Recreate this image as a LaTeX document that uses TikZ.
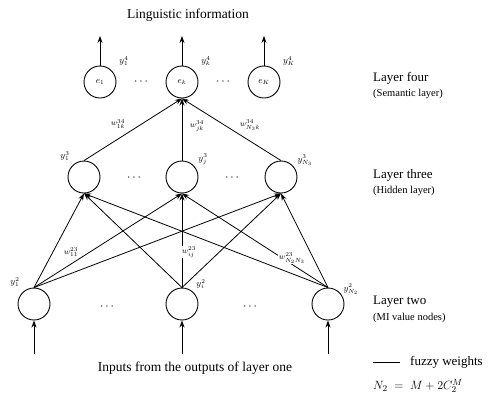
\documentclass[tikz,border=0pt]{standalone}
\usepackage{fontspec}
\setmainfont{Liberation Serif}
\usetikzlibrary{arrows.meta}
\begin{document}
\begin{tikzpicture}[x=1pt,y=-1pt,
  neuron/.style={draw,circle,line width=0.9pt,minimum size=32pt,inner sep=0pt,font=\fontsize{9}{10}\selectfont},
  conn/.style={line width=0.8pt,-{Stealth[length=7pt,width=5pt]}},
  lbl/.style={font=\fontsize{9}{10}\selectfont,inner sep=0pt},
  wl/.style={font=\fontsize{8.5}{9}\selectfont,inner sep=0.5pt,fill=white},
  head/.style={font=\fontsize{13}{14}\selectfont,anchor=west,inner sep=0pt},
  sub/.style={font=\fontsize{10.5}{12}\selectfont,anchor=west,inner sep=0pt},
  dots/.style={font=\fontsize{12}{12}\selectfont}]
\useasboundingbox (0,0) rectangle (491,400);
% title
\node[font=\fontsize{13.5}{14}\selectfont] (title) at (188,15) {Linguistic information};
% layer four
\node[neuron] (d1) at (100,82) {$e_1$};
\node[neuron] (dk) at (182,82) {$e_k$};
\node[neuron] (dK) at (264,82) {$e_K$};
\node[dots] (dd1) at (141,82) {$\cdots$};
\node[dots] (dd2) at (223,82) {$\cdots$};
\node[lbl] (ld1) at (124,61) {$y_1^4$};
\node[lbl] (ldk) at (206,61) {$y_k^4$};
\node[lbl] (ldK) at (289,61) {$y_K^4$};
\coordinate (o1) at (100,36);
\coordinate (ok) at (182,36);
\coordinate (oK) at (264,36);
\draw[conn] (d1.north) -- (o1);
\draw[conn] (dk.north) -- (ok);
\draw[conn] (dK.north) -- (oK);
% layer three
\node[neuron] (h1) at (84,177) {};
\node[neuron] (hj) at (182,177) {};
\node[neuron] (hN) at (281,177) {};
\node[dots] (hd1) at (134,178) {$\cdots$};
\node[dots] (hd2) at (232,178) {$\cdots$};
\node[lbl] (lh1) at (65,156) {$y_1^3$};
\node[lbl] (lhj) at (203,159) {$y_j^3$};
\node[lbl] (lhN) at (305,160) {$y_{N_3}^3$};
% layer two
\node[neuron] (i1) at (34,304) {};
\node[neuron] (ii) at (182,304) {};
\node[neuron] (iN) at (328,304) {};
\node[dots] (id1) at (107,307) {$\cdots$};
\node[dots] (id2) at (250,307) {$\cdots$};
\node[lbl] (li1) at (15,282) {$y_1^2$};
\node[lbl] (lii) at (201,284) {$y_i^2$};
\node[lbl] (liN) at (351,289) {$y_{N_2}^2$};
% inputs
\coordinate (n1) at (34,354);
\coordinate (ni) at (182,354);
\coordinate (nN) at (328,354);
\draw[conn] (n1) -- (i1.south);
\draw[conn] (ni) -- (ii.south);
\draw[conn] (nN) -- (iN.south);
\node[font=\fontsize{13.5}{14}\selectfont] (inputs) at (195,368) {Inputs from the outputs of layer one};
% layer 2 -> 3
\foreach \a in {i1,ii,iN}{
  \foreach \b in {h1,hj,hN}{
    \draw[conn] (\a.north) -- (\b.south);
  }
}
% layer 3 -> 4
\draw[conn] (h1.north) -- (dk.south);
\draw[conn] (hj.north) -- (dk.south);
\draw[conn] (hN.north) -- (dk.south);
% weight labels
\node[wl] (w1) at (118,124) {$w_{1k}^{34}$};
\node[wl] (w2) at (197,126) {$w_{jk}^{34}$};
\node[wl] (w3) at (250,125) {$w_{N_3k}^{34}$};
\node[wl] (v1) at (71,252) {$w_{11}^{23}$};
\node[wl] (v2) at (189,252) {$w_{ij}^{23}$};
\node[wl] (v3) at (292,258) {$w_{N_2N_3}^{23}$};
% right side
\node[head] (t4) at (373,78) {Layer four};
\node[sub] (s4) at (373,94) {(Semantic layer)};
\node[head] (t3) at (373,175) {Layer three};
\node[sub] (s3) at (373,191) {(Hidden layer)};
\node[head] (t2) at (373,302) {Layer two};
\node[sub] (s2) at (373,318) {(MI value nodes)};
\coordinate (la) at (373,362);
\coordinate (lb) at (400,362);
\draw[line width=0.8pt] (la) -- (lb);
\node[head] (fw) at (410,362) {fuzzy weights};
\node[head] (eq) at (373,386) {$N_2\;=\;M+2C_2^M$};
\end{tikzpicture}
\end{document}
